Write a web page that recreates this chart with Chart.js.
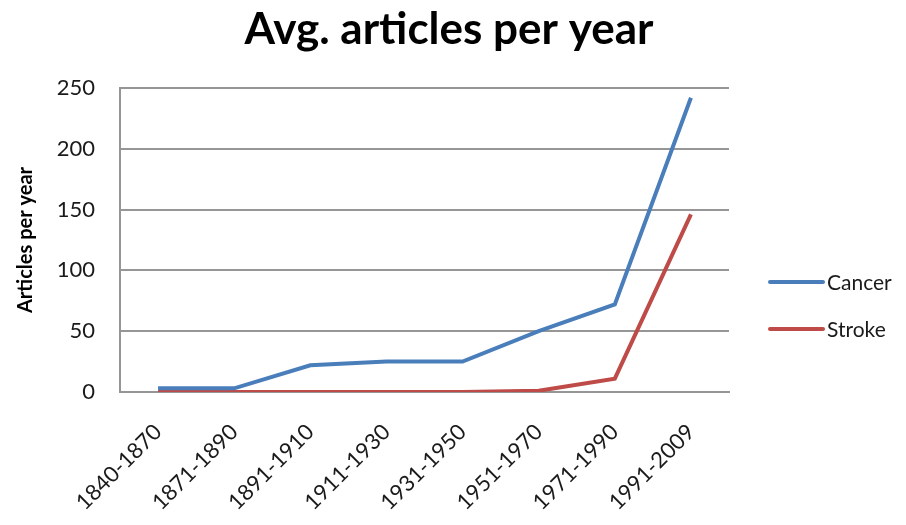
<!DOCTYPE html>
<html>
<head>
<meta charset="utf-8">
<title>Avg. articles per year</title>
<script src="https://cdn.jsdelivr.net/npm/chart.js@4"></script>
<style>
  html, body { margin: 0; padding: 0; background: #ffffff; }
  #wrap { width: 906px; height: 525px; position: relative; }
</style>
</head>
<body>
<div id="wrap"><canvas id="chart"></canvas></div>
<script>
// Periods on the x axis
const periods = ['1840-1870', '1871-1890', '1891-1910', '1911-1930', '1931-1950', '1951-1970', '1971-1990', '1991-2009'];
// Average number of articles per year in each period
const cancer = [3, 3, 22, 25, 25, 50, 72, 242];
const stroke = [0, 0, 0, 0, 0, 1, 11, 146];
// Value axis ticks
const yTicks = [0, 50, 100, 150, 200, 250];
const chartTitle = 'Avg. articles per year';

const FONT = 'Lato, "Open Sans", "DejaVu Sans", sans-serif';
const GRID = '#969696';

// Title centred over the whole canvas
const canvasTitle = {
  id: 'canvasTitle',
  afterDraw(chart) {
    const { ctx, width } = chart;
    ctx.save();
    ctx.fillStyle = '#000000';
    ctx.font = 'bold 44px ' + FONT;
    ctx.textAlign = 'center';
    ctx.textBaseline = 'middle';
    ctx.fillText(chartTitle, width / 2 - 4, 30);
    ctx.restore();
  }
};

// Legend to the right of the plot: a short line sample followed by the series name
const sideLegend = {
  id: 'sideLegend',
  afterDraw(chart) {
    const { ctx, chartArea } = chart;
    const x0 = chartArea.right + 40;
    const gap = 47;
    ctx.save();
    chart.data.datasets.forEach((ds, i) => {
      const y = chartArea.top + 194 + i * gap;
      ctx.strokeStyle = ds.borderColor;
      ctx.lineWidth = 4;
      ctx.lineCap = 'round';
      ctx.beginPath();
      ctx.moveTo(x0 + 1, y);
      ctx.lineTo(x0 + 54, y);
      ctx.stroke();
      ctx.fillStyle = '#1a1a1a';
      ctx.font = '21px ' + FONT;
      ctx.textBaseline = 'middle';
      ctx.textAlign = 'left';
      ctx.fillText(ds.label, x0 + 58, y + 1);
    });
    ctx.restore();
  }
};

new Chart(document.getElementById('chart'), {
  type: 'line',
  data: {
    labels: periods,
    datasets: [
      { label: 'Cancer', data: cancer, borderColor: '#4a7ebb', backgroundColor: '#4a7ebb', borderWidth: 4, pointRadius: 0, tension: 0 },
      { label: 'Stroke', data: stroke, borderColor: '#be4b48', backgroundColor: '#be4b48', borderWidth: 4, pointRadius: 0, tension: 0 }
    ]
  },
  options: {
    responsive: true,
    maintainAspectRatio: false,
    animation: false,
    layout: { padding: { left: 0, right: 177, top: 88, bottom: 0 } },
    plugins: {
      legend: { display: false },
      tooltip: { enabled: false },
      title: { display: false }
    },
    scales: {
      x: {
        offset: true,
        grid: { display: false, drawTicks: false },
        border: { display: true, color: GRID, width: 2 },
        ticks: {
          color: '#1a1a1a',
          font: { family: FONT, size: 22 },
          maxRotation: 45,
          minRotation: 45,
          padding: 27,
          autoSkip: false
        },
        afterFit(scale) { scale.height = 133; }
      },
      y: {
        min: 0,
        max: 250,
        afterBuildTicks(scale) { scale.ticks = yTicks.map(v => ({ value: v })); },
        grid: { color: GRID, lineWidth: 2, drawTicks: false },
        border: { display: true, color: GRID, width: 2 },
        ticks: {
          color: '#1a1a1a',
          font: { family: FONT, size: 22 },
          padding: 25
        },
        title: {
          display: true,
          text: 'Articles per year',
          color: '#000000',
          font: { family: FONT, size: 20, weight: 'bold', lineHeight: 1.2 },
          padding: { top: 14, bottom: 0 }
        },
        afterFit(scale) { scale.width = 120; }
      }
    }
  },
  plugins: [canvasTitle, sideLegend]
});
</script>
</body>
</html>
